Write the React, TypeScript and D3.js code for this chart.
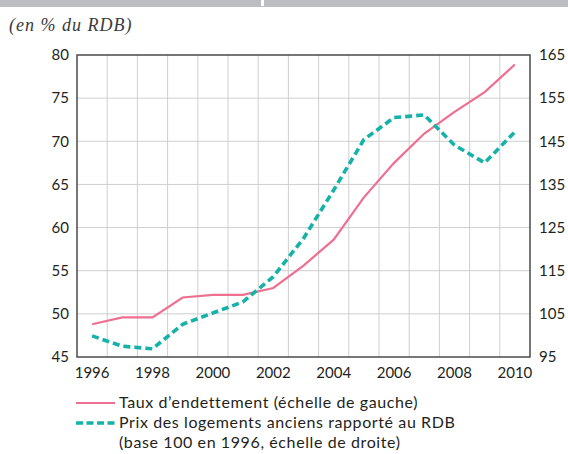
import { useRef, useEffect } from 'react'
import * as d3 from 'd3'

const years = [1996, 1997, 1998, 1999, 2000, 2001, 2002, 2003, 2004, 2005, 2006, 2007, 2008, 2009, 2010]
const debtRate = [48.8, 49.6, 49.6, 51.9, 52.2, 52.2, 53.0, 55.6, 58.6, 63.5, 67.5, 70.9, 73.4, 75.7, 78.9]
const housePrice = [99.9, 97.5, 96.9, 102.6, 105.2, 107.8, 113.6, 122.5, 133.7, 145.4, 150.5, 151.1, 144.1, 140.0, 147.2]
const leftTicks = [45, 50, 55, 60, 65, 70, 75, 80]
const rightTicks = [95, 105, 115, 125, 135, 145, 155, 165]
const xLabels = [1996, 1998, 2000, 2002, 2004, 2006, 2008, 2010]
const legendLabels = [
  'Taux d\u2019endettement (échelle de gauche)',
  'Prix des logements anciens rapporté au RDB',
  '(base 100 en 1996, échelle de droite)',
]

const PINK = '#ef6f91'
const TEAL = '#14b2a7'
const TEXT = '#231f20'
const FONT = 'Lato, "Open Sans", sans-serif'

export default function App() {
  const svgRef = useRef<SVGSVGElement | null>(null)

  useEffect(() => {
    if (!svgRef.current) return
    const width = 568
    const height = 454
    const margin = { left: 77, right: 38, top: 55, bottom: 97 }
    const bw = width - margin.left - margin.right
    const bh = height - margin.top - margin.bottom

    const svg = d3.select(svgRef.current)
    svg.selectAll('*').remove()
    svg.attr('width', width).attr('height', height)

    // header band and subtitle
    svg.append('rect').attr('x', 0).attr('y', 0).attr('width', width).attr('height', 7).attr('fill', '#bcbdc0')
    svg.append('rect').attr('x', 261).attr('y', 0).attr('width', 3).attr('height', 6).attr('fill', '#fff')
    svg
      .append('text')
      .attr('x', 9)
      .attr('y', 31)
      .attr('font-family', '"Liberation Serif", "DejaVu Serif", serif')
      .attr('font-style', 'italic')
      .attr('font-size', 18)
      .attr('letter-spacing', 1)
      .attr('fill', '#3a3a3a')
      .text('(en % du RDB)')

    const g = svg.append('g').attr('transform', `translate(${margin.left},${margin.top})`)

    const x = d3.scaleLinear().domain([1995.5, 2010.5]).range([0, bw])
    const yL = d3.scaleLinear().domain([45, 80]).range([bh, 0])
    const yR = d3.scaleLinear().domain([95, 165]).range([bh, 0])

    // vertical gridlines at half years
    const vGrid = years.slice(0, -1).map((y) => y + 0.5)
    g.append('g')
      .selectAll('line')
      .data(vGrid)
      .join('line')
      .attr('x1', (d) => x(d))
      .attr('x2', (d) => x(d))
      .attr('y1', 0)
      .attr('y2', bh)
      .attr('stroke', '#cfcfcf')
      .attr('stroke-width', 1)

    // horizontal gridlines
    g.append('g')
      .selectAll('line')
      .data(leftTicks.slice(1, -1))
      .join('line')
      .attr('x1', 0)
      .attr('x2', bw)
      .attr('y1', (d) => yL(d))
      .attr('y2', (d) => yL(d))
      .attr('stroke', '#cfcfcf')
      .attr('stroke-width', 1)

    // frame
    g.append('rect')
      .attr('width', bw)
      .attr('height', bh)
      .attr('fill', 'none')
      .attr('stroke', '#4a4a4a')
      .attr('stroke-width', 1.5)

    // left axis labels
    g.append('g')
      .selectAll('text')
      .data(leftTicks)
      .join('text')
      .attr('x', -8)
      .attr('y', (d) => yL(d))
      .attr('dy', '0.35em')
      .attr('text-anchor', 'end')
      .attr('font-family', FONT)
      .attr('font-size', 15)
      .attr('fill', TEXT)
      .text((d) => d)

    // right axis labels
    g.append('g')
      .selectAll('text')
      .data(rightTicks)
      .join('text')
      .attr('x', bw + 9)
      .attr('y', (d) => yR(d))
      .attr('dy', '0.35em')
      .attr('text-anchor', 'start')
      .attr('font-family', FONT)
      .attr('font-size', 15)
      .attr('fill', TEXT)
      .text((d) => d)

    // x labels
    g.append('g')
      .selectAll('text')
      .data(xLabels)
      .join('text')
      .attr('x', (d) => x(d))
      .attr('y', bh + 21)
      .attr('text-anchor', 'middle')
      .attr('font-family', FONT)
      .attr('font-size', 15)
      .attr('fill', TEXT)
      .text((d) => d)

    // lines
    const debtLine = d3
      .line<number>()
      .x((_, i) => x(years[i]))
      .y((d) => yL(d))
    const priceLine = d3
      .line<number>()
      .x((_, i) => x(years[i]))
      .y((d) => yR(d))

    g.append('path')
      .datum(debtRate)
      .attr('d', debtLine)
      .attr('fill', 'none')
      .attr('stroke', PINK)
      .attr('stroke-width', 2.2)

    g.append('path')
      .datum(housePrice)
      .attr('d', priceLine)
      .attr('fill', 'none')
      .attr('stroke', TEAL)
      .attr('stroke-width', 3.6)
      .attr('stroke-dasharray', '7,4')

    // legend
    const lg = svg.append('g')
    lg.append('line')
      .attr('x1', 76)
      .attr('x2', 115)
      .attr('y1', 403)
      .attr('y2', 403)
      .attr('stroke', PINK)
      .attr('stroke-width', 2.2)
    lg.append('line')
      .attr('x1', 76)
      .attr('x2', 115)
      .attr('y1', 423)
      .attr('y2', 423)
      .attr('stroke', TEAL)
      .attr('stroke-width', 3.6)
      .attr('stroke-dasharray', '7,3.5')
    lg.selectAll('text.lab')
      .data(legendLabels)
      .join('text')
      .attr('x', 119)
      .attr('y', (_, i) => 408 + i * 20)
      .attr('font-family', FONT)
      .attr('font-size', 16)
      .attr('letter-spacing', 0.6)
      .attr('fill', TEXT)
      .text((d) => d)
  }, [])

  return <svg ref={svgRef} style={{ position: 'absolute', left: 0, top: 0, background: '#fff' }} />
}
